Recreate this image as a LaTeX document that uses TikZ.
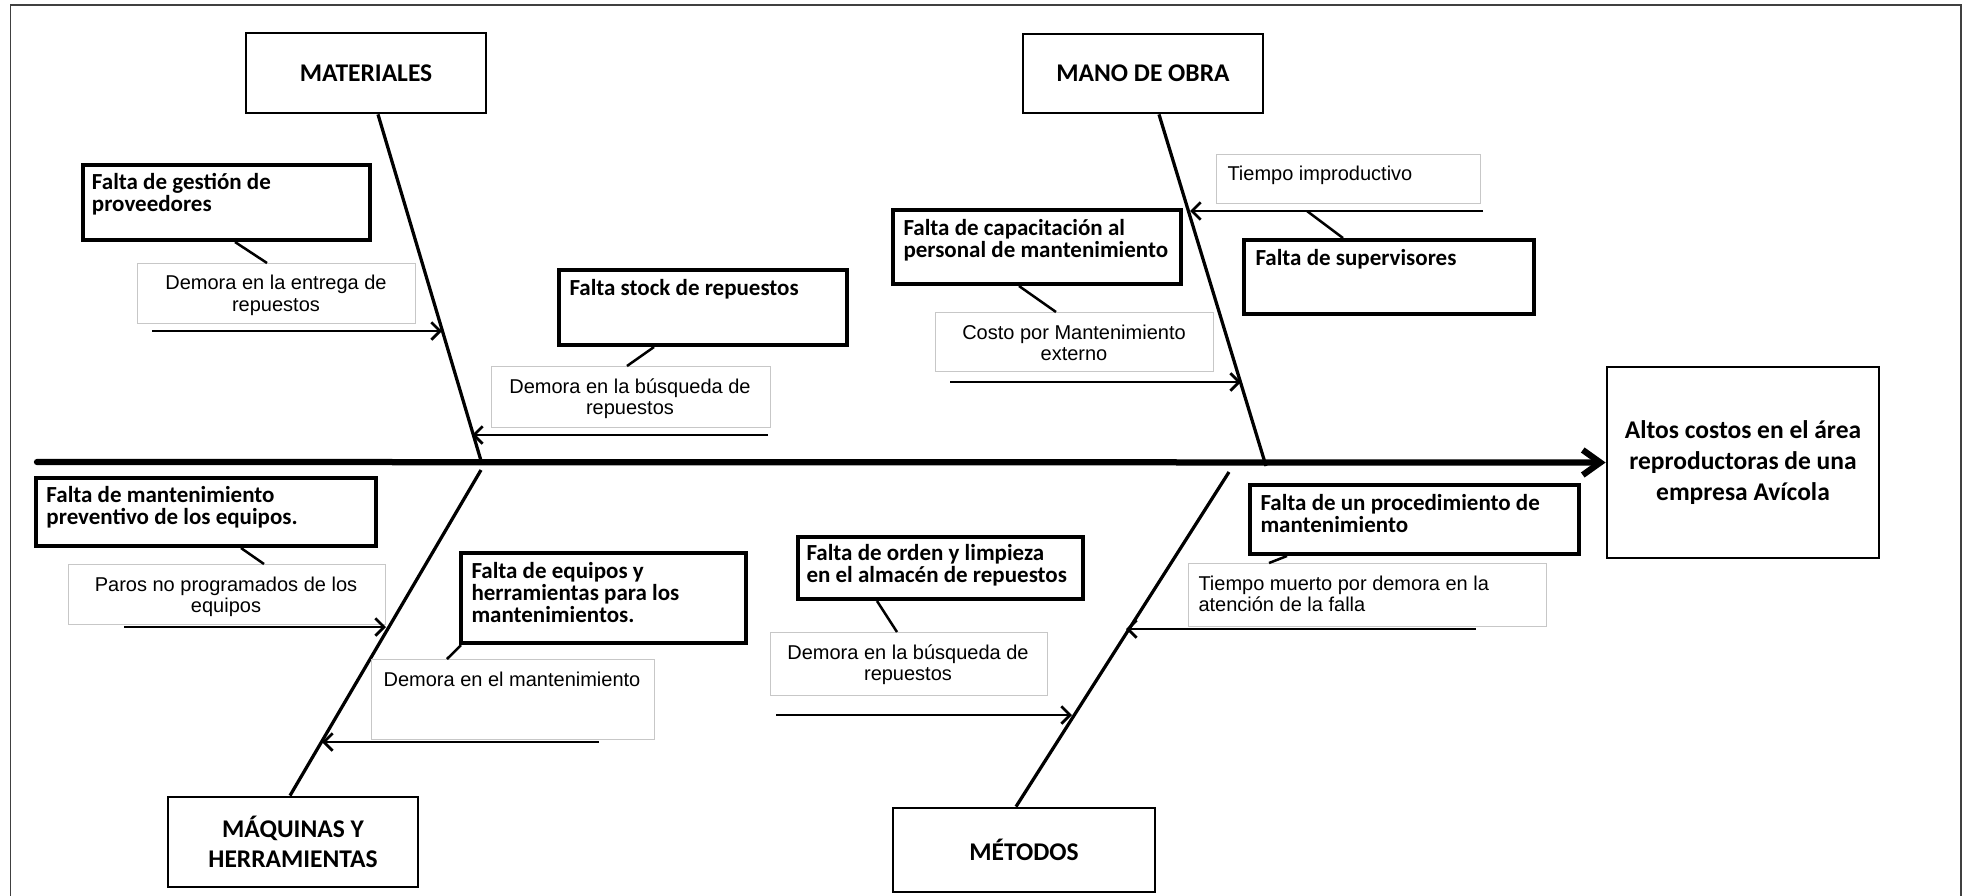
\documentclass[tikz,border=0pt]{standalone}
\usepackage{fontspec}
\setmainfont{Carlito}
\newfontfamily\arialf{Liberation Sans}
\usetikzlibrary{arrows.meta,calc}
\begin{document}
\begin{tikzpicture}[x=0.4pt,y=-0.4pt,
  frameline/.style={line width=0.6pt, black!75},
  catbox/.style={draw, line width=1.1pt, inner sep=0pt, align=center, font=\bfseries\fontsize{10.2}{12}\selectfont},
  causebox/.style={draw, line width=1.6pt, inner sep=0pt, anchor=north west},
  causetext/.style={inner sep=0pt, anchor=north west, align=left, font=\bfseries\fontsize{9.2}{8.8}\selectfont},
  effbox/.style={draw, line width=1.1pt, inner sep=0pt, align=center, font=\bfseries\fontsize{10.2}{12.4}\selectfont},
  ebox/.style={draw=black!22, line width=0.5pt, inner sep=0pt, anchor=north west},
  etextc/.style={inner sep=0pt, anchor=north, align=center, font=\arialf\fontsize{8}{8.6}\selectfont},
  etextl/.style={inner sep=0pt, anchor=north west, align=left, font=\arialf\fontsize{8}{8.6}\selectfont},
  bone/.style={line width=1.3pt},
  arr/.style={line width=1.1pt, -{Straight Barb[length=3.5pt,width=7pt]}},
  spinearr/.style={line width=2.5pt, line cap=round, -{Straight Barb[length=7pt,width=10pt]}},
  link/.style={line width=1pt},
]
\useasboundingbox (0,0) rectangle (1968,895);
% frame
\draw[frameline] (10.5,905) -- (10.5,5) -- (1961,5) -- (1961,905);

% effect and categories
\node[effbox, minimum width=108.8pt, minimum height=76.4pt] (eff) at (1743,462.5)
  {Altos costos en el área\\reproductoras de una\\empresa Avícola};
\node[catbox, minimum width=96pt, minimum height=32pt] (mat) at (366,73) {MATERIALES};
\node[catbox, minimum width=96pt, minimum height=31.6pt] (mano) at (1143,73.5) {MANO DE OBRA};
\node[catbox, minimum width=100pt, minimum height=36pt] (maq) at (293,842) {MÁQUINAS Y\\HERRAMIENTAS};
\node[catbox, minimum width=104.8pt, minimum height=33.6pt] (met) at (1024,850) {MÉTODOS};

% spine
\coordinate (spl) at (37,462);
\draw[spinearr] (spl) -- (eff.west);

% bones
\coordinate (b1s) at ($(mat.south)+(12,0)$);
\coordinate (b1e) at (482,464);
\coordinate (b2s) at ($(mano.south)+(16,0)$);
\coordinate (b2e) at (1266,466);
\coordinate (b3s) at (481,470);
\coordinate (b3e) at ($(maq.north)+(-3,0)$);
\coordinate (b4s) at (1229,472);
\coordinate (b4e) at ($(met.north)+(-8,0)$);
\draw[bone] (b1s) -- (b1e);
\draw[bone] (b2s) -- (b2e);
\draw[bone] (b3s) -- (b3e);
\draw[bone] (b4s) -- (b4e);

% cause boxes (bold)
\node[causebox, minimum width=114.8pt, minimum height=30pt] (g1) at (81,163) {};
\node[causetext] (g1t) at (91.5,173) {Falta de gestión de\\proveedores};
\node[causebox, minimum width=115.2pt, minimum height=30pt] (g2) at (557,268) {};
\node[causetext] (g2t) at (569,279) {Falta stock de repuestos};
\node[causebox, minimum width=115.2pt, minimum height=29.6pt] (g3) at (891,208) {};
\node[causetext] (g3t) at (903,219) {Falta de capacitación al\\personal de mantenimiento};
\node[causebox, minimum width=116pt, minimum height=29.6pt] (g4) at (1242,238) {};
\node[causetext] (g4t) at (1255,249) {Falta de supervisores};
\node[causebox, minimum width=136pt, minimum height=27.2pt] (g5) at (34,476) {};
\node[causetext] (g5t) at (46,486) {Falta de mantenimiento\\preventivo de los equipos.};
\node[causebox, minimum width=114pt, minimum height=36pt] (g6) at (459,551) {};
\node[causetext] (g6t) at (471,562) {Falta de equipos y\\herramientas para los\\mantenimientos.};
\node[causebox, minimum width=114pt, minimum height=24.8pt] (g7) at (796,535) {};
\node[causetext] (g7t) at (806,544) {Falta de orden y limpieza\\en el almacén de repuestos};
\node[causebox, minimum width=131.6pt, minimum height=27.6pt] (g8) at (1248,483) {};
\node[causetext] (g8t) at (1260,494) {Falta de un procedimiento de\\mantenimiento};

% effect boxes (grey)
\node[ebox, minimum width=111.2pt, minimum height=24pt] (e1) at (137,263) {};
\node[etextc] (e1t) at (276,274.6) {Demora en la entrega de\\repuestos};
\node[ebox, minimum width=111.6pt, minimum height=24.4pt] (e2) at (491,366) {};
\node[etextc] (e2t) at (630,378) {Demora en la búsqueda de\\repuestos};
\node[ebox, minimum width=105.6pt, minimum height=19.6pt] (e3) at (1216,154) {};
\node[etextl] (e3t) at (1227,165) {Tiempo improductivo};
\node[ebox, minimum width=111.2pt, minimum height=23.6pt] (e4) at (935,312) {};
\node[etextc] (e4t) at (1074,324) {Costo por Mantenimiento\\externo};
\node[ebox, minimum width=126.8pt, minimum height=24pt] (e5) at (68,564) {};
\node[etextc] (e5t) at (226,576) {Paros no programados de los\\equipos};
\node[ebox, minimum width=113.2pt, minimum height=32pt] (e6) at (371,659) {};
\node[etextc] (e6t) at (512,671) {Demora en el mantenimiento};
\node[ebox, minimum width=143.2pt, minimum height=25.2pt] (e7) at (1188,563) {};
\node[etextl] (e7t) at (1198,575) {Tiempo muerto por demora en la\\atención de la falla};
\node[ebox, minimum width=110.8pt, minimum height=25.2pt] (e8) at (770,632) {};
\node[etextc] (e8t) at (908,644) {Demora en la búsqueda de\\repuestos};

% links between cause and effect boxes
\draw[link] ($(g1.south west)+(154,0)$) -- ($(e1.north west)+(130,0)$);
\draw[link] ($(g2.south west)+(97,0)$) -- ($(e2.north west)+(136,0)$);
\draw[link] ($(g3.south west)+(128,0)$) -- ($(e4.north west)+(121,0)$);
\draw[link] ($(g5.south west)+(207,0)$) -- ($(e5.north west)+(196,0)$);
\draw[link] ($(g6.south west)+(2,0)$) -- ($(e6.north west)+(76,0)$);
\draw[link] ($(g7.south west)+(81,0)$) -- ($(e8.north west)+(127,0)$);
\draw[link] ($(g8.south west)+(39,0)$) -- ($(e7.north west)+(81,0)$);

% arrows to the bones
\coordinate (a1s) at (152,331);  \coordinate (a1e) at (442,331);
\coordinate (a2s) at (768,435);  \coordinate (a2e) at (472,435);
\coordinate (a3s) at (1483,211); \coordinate (a3e) at (1190,211);
\coordinate (a4s) at (950,382);  \coordinate (a4e) at (1241,382);
\coordinate (a5s) at (124,627);  \coordinate (a5e) at (386,627);
\coordinate (a6s) at (599,742);  \coordinate (a6e) at (322,742);
\coordinate (a7s) at (1476,629); \coordinate (a7e) at (1126,629);
\coordinate (a8s) at (776,715);  \coordinate (a8e) at (1072,715);
\foreach \i in {1,...,8} {\draw[arr] (a\i s) -- (a\i e);}
\coordinate (a3m) at (1307,211);
\draw[link] (a3m) -- ($(g4.north west)+(101,0)$);
\end{tikzpicture}
\end{document}
